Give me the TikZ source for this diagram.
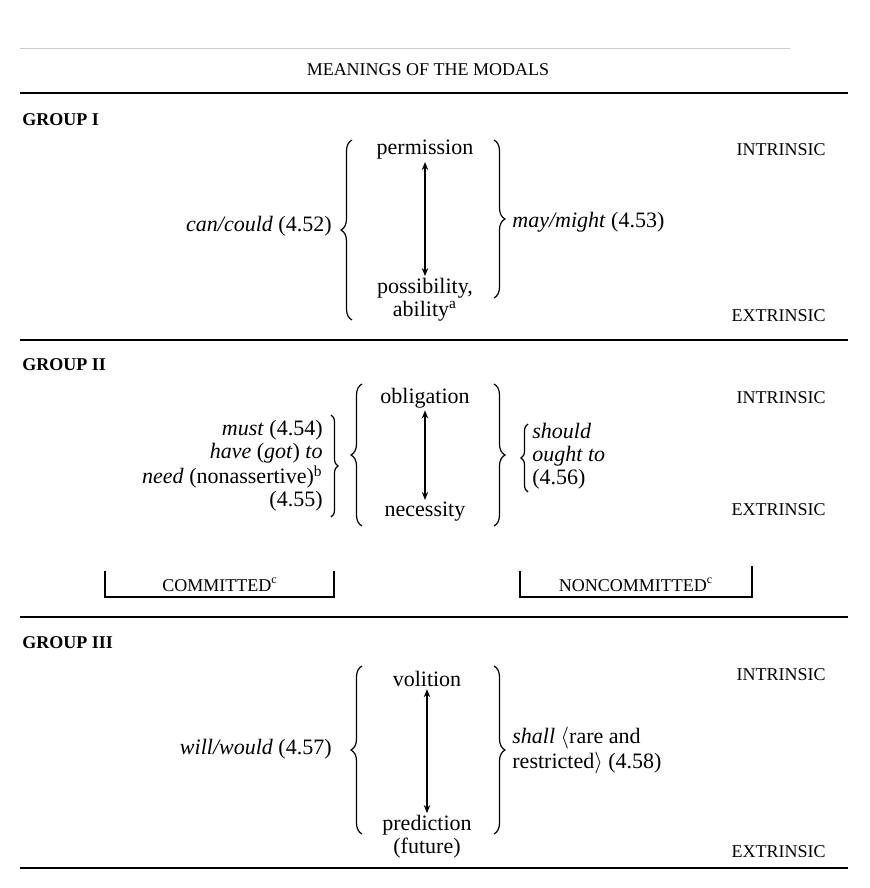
\documentclass[tikz,border=0pt]{standalone}
\usepackage{fontspec}
\setmainfont{Liberation Serif}
\usetikzlibrary{positioning,arrows.meta,decorations.pathreplacing}

\begin{document}
\begin{tikzpicture}[x=0.5pt,y=-0.5pt,
  txt/.style={font=\fontsize{11}{11.5}\selectfont, inner sep=1pt},
  caps/.style={font=\fontsize{9}{10}\selectfont, inner sep=1pt},
  group/.style={font=\fontsize{9}{10}\selectfont\bfseries, inner sep=1pt, anchor=west},
  rule/.style={line width=0.8pt},
  curly/.style={decorate, decoration={brace, amplitude=5.5pt}, line width=0.6pt},
  small curly/.style={decorate, decoration={brace, amplitude=3.5pt}, line width=0.6pt},
  updown/.style={{Stealth[length=4pt,width=3.2pt]}-{Stealth[length=4pt,width=3.2pt]}, line width=0.6pt}]

\useasboundingbox (0,0) rectangle (869,888);

% rules
\draw[gray!40, line width=0.4pt] (20,48) -- (790,48);
\node[caps] (title) at (428,70) {MEANINGS OF THE MODALS};
\draw[rule] (20,93) -- (848,93);
\draw[rule] (20,340) -- (848,340);
\draw[rule] (20,617) -- (848,617);
\draw[rule] (20,868) -- (848,868);

% group I
\node[group] (g1) at (20,120) {GROUP I};
\node[caps, anchor=east] (in1) at (828,150) {INTRINSIC};
\node[caps, anchor=east] (ex1) at (828,316) {EXTRINSIC};
\node[txt] (perm) at (425,150) {permission};
\node[txt, align=center] (poss) at (425,300) {possibility,\\ability\textsuperscript{a}};
\draw[updown] (perm) -- (poss);
\draw[curly] (352,320) -- (352,140);
\draw[curly] (494,140) -- (494,298);
\node[txt, anchor=east] (can) at (334,226) {\textit{can/could} (4.52)};
\node[txt, anchor=west] (may) at (510,222) {\textit{may/might} (4.53)};

% group II
\node[group] (g2) at (20,365) {GROUP II};
\node[caps, anchor=east] (in2) at (828,398) {INTRINSIC};
\node[caps, anchor=east] (ex2) at (828,510) {EXTRINSIC};
\node[txt] (obl) at (425,398) {obligation};
\node[txt] (nec) at (425,512) {necessity};
\draw[updown] (obl) -- (nec);
\draw[curly] (362,526) -- (362,384);
\draw[curly] (494,384) -- (494,526);
\node[txt, anchor=east, align=right] (must) at (325,466)
  {\textit{must} (4.54)\\\textit{have} (\textit{got}) \textit{to}\\\textit{need} (nonassertive)\textsuperscript{b}\\(4.55)};
\draw[small curly] (331,415) -- (331,517);
\draw[small curly] (528,492) -- (528,424);
\node[txt, anchor=west, align=left] (should) at (530,456)
  {\textit{should}\\\textit{ought to}\\(4.56)};

% committed / noncommitted
\node[caps] (comm) at (220,585) {COMMITTED\textsuperscript{c}};
\draw[line width=0.6pt] (105,571) -- (105,597) -- (334,597) -- (334,571);
\node[caps] (noncomm) at (636,585) {NONCOMMITTED\textsuperscript{c}};
\draw[line width=0.6pt] (520,571) -- (520,597) -- (752,597) -- (752,566);

% group III
\node[group] (g3) at (20,643) {GROUP III};
\node[caps, anchor=east] (in3) at (828,675) {INTRINSIC};
\node[caps, anchor=east] (ex3) at (828,852) {EXTRINSIC};
\node[txt] (vol) at (427,679) {volition};
\node[txt, align=center] (pred) at (427,837) {prediction\\(future)};
\draw[updown] (vol) -- (pred);
\draw[curly] (362,834) -- (362,666);
\draw[curly] (494,666) -- (494,834);
\node[txt, anchor=east] (will) at (334,749) {\textit{will/would} (4.57)};
\node[txt, anchor=west, align=left, font=\fontsize{11}{12.5}\selectfont] (shall) at (510,751)
  {\textit{shall} $\langle$rare and\\restricted$\rangle$ (4.58)};

\end{tikzpicture}
\end{document}
